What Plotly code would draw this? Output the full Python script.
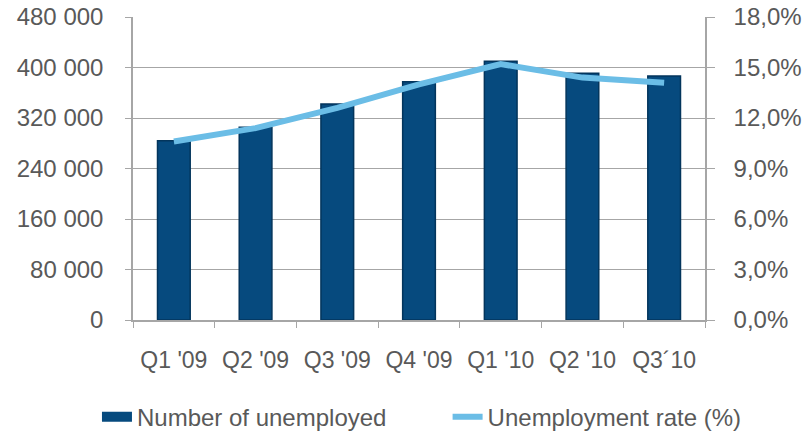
import plotly.graph_objects as go

quarters = ["Q1 '09", "Q2 '09", "Q3 '09", "Q4 '09", "Q1 '10", "Q2 '10", "Q3´10"]
unemployed = [284000, 305500, 342000, 377500, 410000, 391000, 386500]
rate_pct = [10.6, 11.4, 12.6, 14.0, 15.2, 14.4, 14.1]

left_ticks = [0, 80000, 160000, 240000, 320000, 400000, 480000]
left_labels = ["0", "80 000", "160 000", "240 000", "320 000", "400 000", "480 000"]
right_ticks = [0, 3, 6, 9, 12, 15, 18]
right_labels = ["0,0%", "3,0%", "6,0%", "9,0%", "12,0%", "15,0%", "18,0%"]

font_family = "Liberation Sans"
text_color = "#595959"
grid_color = "#A6A6A6"
bar_color = "#064A7E"

fig = go.Figure()
fig.add_trace(go.Bar(
    x=quarters, y=unemployed, name="Number of unemployed",
    marker=dict(color=bar_color, line=dict(color="#03355C", width=1.5)),
    width=0.4, yaxis="y", showlegend=False,
))
# legend proxy (wide rectangle swatch like the original)
fig.add_trace(go.Scatter(
    x=[None], y=[None], name="Number of unemployed", mode="lines",
    line=dict(color=bar_color, width=11), legend="legend", showlegend=True,
))
fig.add_trace(go.Scatter(
    x=quarters, y=rate_pct, name="Unemployment rate (%)",
    mode="lines", line=dict(color="#6BBDE6", width=6),
    yaxis="y2", legend="legend2",
))

leg_common = dict(orientation="h", y=-0.321, yanchor="middle", xanchor="left",
                  font=dict(family=font_family, size=24, color=text_color),
                  itemwidth=30, bgcolor="rgba(0,0,0,0)")

fig.update_layout(
    width=807, height=435,
    margin=dict(l=133, r=102, t=17, b=114.5, autoexpand=False),
    paper_bgcolor="white", plot_bgcolor="white",
    font=dict(family=font_family, size=22, color=text_color),
    showlegend=True,
    legend=dict(x=-0.063, **leg_common),
    legend2=dict(x=0.55, **leg_common),
    xaxis=dict(
        showline=True, linecolor=grid_color, linewidth=1.5,
        ticks="outside", ticklen=6, tickcolor=grid_color, tickson="boundaries",
        showgrid=False, ticklabelstandoff=19,
        tickfont=dict(family=font_family, size=23, color=text_color),
    ),
    yaxis=dict(
        range=[0, 480000], tickvals=left_ticks, ticktext=left_labels,
        showline=True, linecolor=grid_color, linewidth=1.5,
        ticks="outside", ticklen=6, tickcolor=grid_color,
        showgrid=True, gridcolor=grid_color, gridwidth=1.3,
        zeroline=False, ticklabelstandoff=17,
        tickfont=dict(family=font_family, size=24, color=text_color),
    ),
    yaxis2=dict(
        range=[0, 18], tickvals=right_ticks, ticktext=right_labels,
        overlaying="y", side="right",
        showline=True, linecolor=grid_color, linewidth=1.5,
        ticks="outside", ticklen=8, tickcolor=grid_color,
        showgrid=False, zeroline=False, ticklabelstandoff=14,
        tickfont=dict(family=font_family, size=24, color=text_color),
    ),
)

fig.write_html("out.html")
